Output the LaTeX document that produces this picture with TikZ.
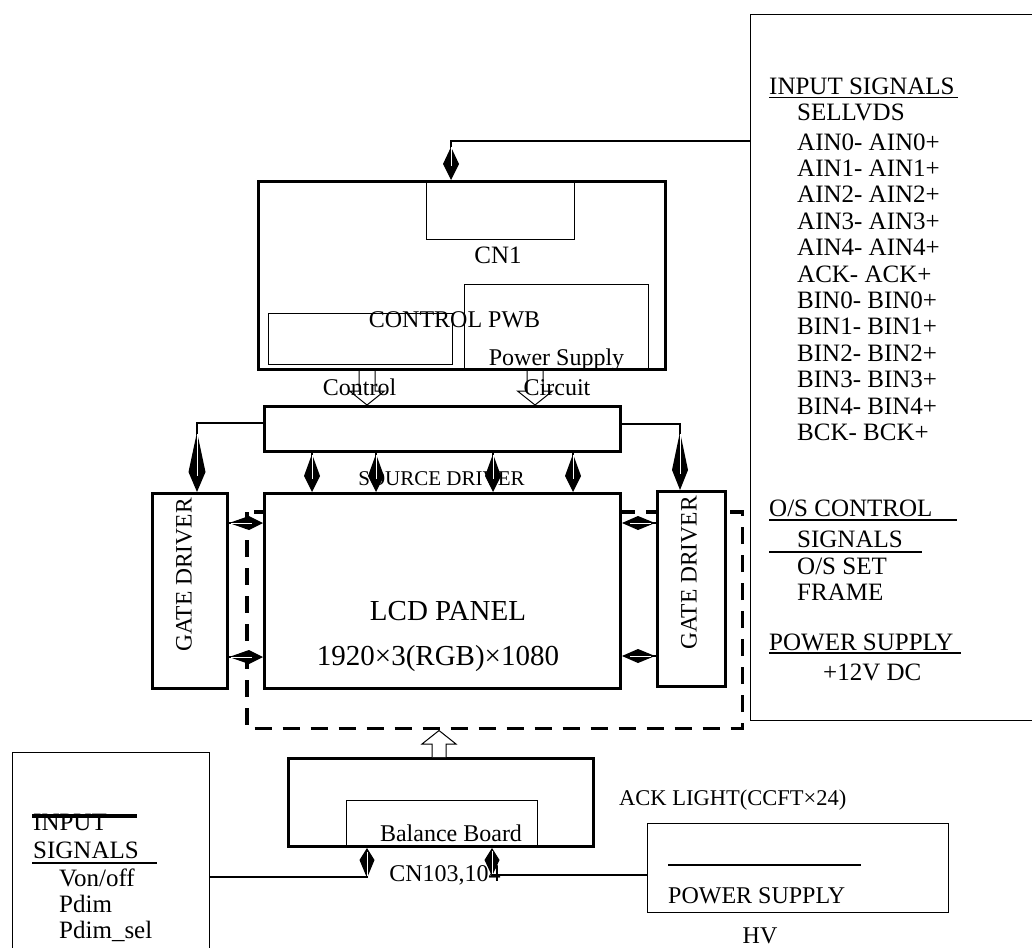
\documentclass[tikz,border=0pt]{standalone}
\usepackage{fontspec}
\setmainfont{Liberation Serif}
\usetikzlibrary{arrows.meta,calc}
\begin{document}
\begin{tikzpicture}[x=1pt,y=-1pt,
  tbx/.style={draw, line width=3pt, fill=white, inner sep=0pt, anchor=north west},
  nbx/.style={draw, line width=1.3pt, inner sep=0pt, anchor=north west},
  dln/.style={line width=3.5pt, dash pattern=on 17pt off 11pt},
  sz/.style 2 args={minimum width=#1pt, minimum height=#2pt},
  tx/.style={inner sep=0pt, font=\fontsize{#1}{#1}\selectfont},
  kc/.style n args={3}{line width=1.2pt, -{Kite[length=#1pt, width=#2pt, inset=#3pt]}},
  wl/.style={white, line width=0.9pt},
  hol/.style={draw, line width=1pt},
  uline/.style={line width=1.6pt}]
\useasboundingbox (0,0) rectangle (1032,947);

% dashed enclosure (behind)
\node[inner sep=0pt, anchor=north west, sz={495}{216}] (dsh) at (247,512) {};
\draw[dln] (dsh.north west) -- (dsh.south west) -- (dsh.south east) -- (dsh.north east) -- cycle;

% boxes
\node[nbx, sz={290}{706}] (rbox) at (750,14) {};
\node[tbx, sz={407}{188}] (pwb) at (257,180) {};
\node[nbx, sz={148}{59}] (cn1) at (426,180) {};
\node[nbx, sz={184}{51}] (ctl) at (268,313) {};
\node[nbx, sz={184}{84}] (ps) at (464,284) {};
\node[tbx, sz={356}{45}] (src) at (263,405) {};
\node[tbx, sz={356}{195}] (lcd) at (263,492) {};
\node[tbx, sz={75}{195}] (gl) at (151,492) {};
\node[tbx, sz={68}{195}] (gr) at (656,490) {};
\node[tbx, sz={305}{88}] (bl) at (287,757) {};
\node[nbx, sz={191}{45}] (bb) at (346,800) {};
\node[nbx, sz={197}{210}] (inb) at (12,752) {};
\node[nbx, sz={301}{89}] (hv) at (647,823) {};

% texts inside main blocks
\node[tx=25, anchor=base] (tcn1) at (498,263) {CN1};
\node[tx=24, anchor=base] (tpwb) at (454.5,327) {CONTROL PWB};
\node[tx=24, anchor=base] (tps) at (556.5,365) {Power Supply};
\node[tx=24, anchor=base] (tctl) at (359.5,395) {Control};
\node[tx=24, anchor=base] (tcir) at (557,395) {Circuit};
\node[tx=21, anchor=base] (tsrc) at (441.5,485) {SOURCE DRIVER};
\node[tx=29, anchor=base] (tlcd) at (448,620) {LCD PANEL};
\node[tx=29, anchor=base] (tres) at (438,665) {1920×3(RGB)×1080};
\node[tx=23.5, rotate=90] (tgl) at (184,575) {GATE DRIVER};
\node[tx=23.5, rotate=90] (tgr) at (689,573) {GATE DRIVER};

% right panel
\node[tx=25, anchor=base west] (ins) at (769,95) {INPUT SIGNALS};
\draw[uline] (769,97.5) -- (958,97.5);
\node[tx=25, anchor=base west] (sel) at (797,121) {SELLVDS};
\foreach \t [count=\i from 0] in {AIN0- AIN0+, AIN1- AIN1+, AIN2- AIN2+, AIN3- AIN3+, AIN4- AIN4+, ACK- ACK+, BIN0- BIN0+, BIN1- BIN1+, BIN2- BIN2+, BIN3- BIN3+, BIN4- BIN4+, BCK- BCK+}
  \node[tx=25, anchor=base west] (li\i) at (797,150+26.4*\i) {\t};
\node[tx=25, anchor=base west] (osc) at (769,516) {O/S CONTROL};
\draw[uline] (769,520) -- (957,520);
\node[tx=25, anchor=base west] (oss) at (797,547) {SIGNALS};
\draw[uline] (769,552) -- (922,552);
\node[tx=25, anchor=base west] (osset) at (797,574) {O/S SET};
\node[tx=25, anchor=base west] (frm) at (797,600) {FRAME};
\node[tx=25, anchor=base west] (pwr) at (769,650) {POWER SUPPLY};
\draw[uline] (769,653) -- (961,653);
\node[tx=25, anchor=base west] (v12) at (823,680) {+12V DC};

% left input panel
\node[tx=25, anchor=base west] (lin) at (33,830) {INPUT};
\draw[line width=3.5pt] (32,816) -- (137,816);
\node[tx=25, anchor=base west] (lsig) at (33,858) {SIGNALS};
\draw[line width=2pt] (32,863) -- (157,863);
\node[tx=25, anchor=base west] (von) at (59,886) {Von/off};
\node[tx=25, anchor=base west] (pdim) at (59,912) {Pdim};
\node[tx=25, anchor=base west] (pdims) at (59,938) {Pdim\_sel};

% bottom texts
\node[tx=24, anchor=base] (tbb) at (451,841) {Balance Board};
\node[tx=24, anchor=base] (tcn) at (445,881) {CN103,104};
\node[tx=22.5, anchor=base west] (tack) at (619,805) {ACK LIGHT(CCFT×24)};
\node[tx=24, anchor=base west] (thvp) at (668,903) {POWER SUPPLY};
\node[tx=24, anchor=base] (thv) at (760,943) {HV};
\draw[line width=2.5pt] (668,865) -- (861,865);

% hollow block arrows
\coordinate (h1) at (pwb.south -| 367,0);
\coordinate (h2) at (pwb.south -| 535,0);
\coordinate (h3) at (bl.north -| 439,0);
\foreach \h in {h1,h2}
  \draw[hol, shift={(\h)}] (-8,0) -- (-8,20) -- (-17.5,20) -- (0,34) -- (17.5,20) -- (8,20) -- (8,0);
\draw[hol, fill=white, shift={(h3)}] (-7,0) -- (-7,-13) -- (-17,-13) -- (0,-26.5) -- (17,-13) -- (7,-13) -- (7,0);

% kite connectors
\coordinate (j1) at (451,141);
\draw[kc={33}{16}{17}] (rbox.west |- j1) -- (j1) -- (pwb.north -| j1);
\draw[wl] (451,147) -- (451,166);

\coordinate (j2) at (197,423);
\draw[kc={60}{17}{40}] (src.west |- j2) -- (j2) -- (gl.north -| j2);
\draw[wl] (197,434) -- (197,476);

\coordinate (j3) at (680,424);
\draw[kc={58}{16}{38}] (src.east |- j3) -- (j3) -- (gr.north -| j3);
\draw[wl] (680,434) -- (680,474);

\foreach \x in {312,376,493,573} {
  \draw[kc={38}{16}{22}] (src.south -| \x,0) -- (lcd.north -| \x,0);
  \draw[wl] (\x,455) -- (\x,479);
}

\foreach \y in {523,657} {
  \draw[kc={34}{14}{20}] (gl.east |- 0,\y) -- (lcd.west |- 0,\y);
  \draw[wl] (231,\y) -- (252,\y);
}
\foreach \y in {523,656} {
  \draw[kc={33}{14}{17}] (gr.west |- 0,\y) -- (lcd.east |- 0,\y);
  \draw[wl] (651,\y) -- (630,\y);
}

\coordinate (j12) at (367,877);
\draw[kc={30}{15}{18}] (inb.east |- j12) -- (j12) -- (bl.south -| j12);
\draw[wl] (367,852) -- (367,876);

\coordinate (j13) at (492,875);
\draw[kc={28}{15}{16}] (hv.west |- j13) -- (j13) -- (bl.south -| j13);
\draw[wl] (492,851) -- (492,874);
\end{tikzpicture}
\end{document}
